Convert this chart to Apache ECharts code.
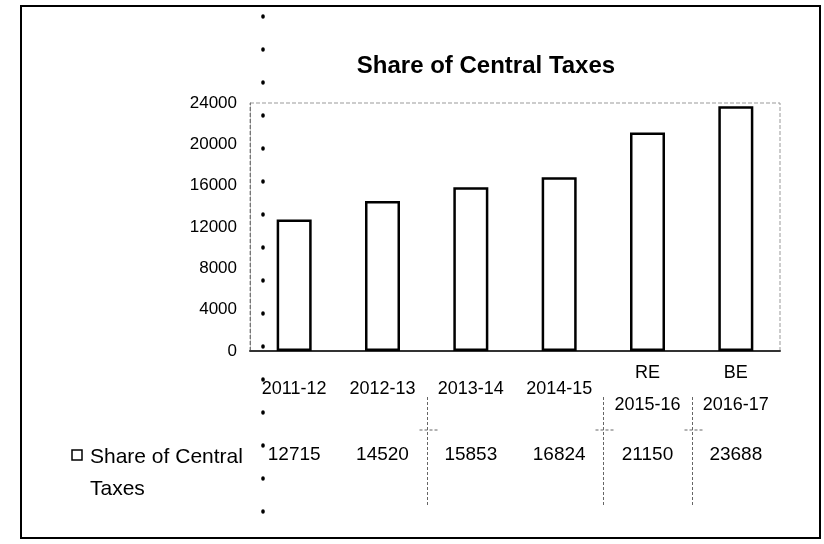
<!DOCTYPE html>
<html>
<head>
    <meta charset="utf-8">
    <title>Share of Central Taxes</title>
    <script src="https://cdn.jsdelivr.net/npm/echarts@6/dist/echarts.min.js"></script>
</head>
<body style="margin:0;background:#fff;">
<div id="main" style="width:824px;height:544px;"></div>
<script type="text/javascript">
    var seriesName = 'Share of Central Taxes';
    var years = ['2011-12', '2012-13', '2013-14', '2014-15', 'RE\n2015-16', 'BE\n2016-17'];
    var values = [12715, 14520, 15853, 16824, 21150, 23688];
    var yTicks = [0, 4000, 8000, 12000, 16000, 20000, 24000];
    // table cell borders that survive in the scan
    var tableLines = [2, 4, 5];

    var font = '"Liberation Sans", Arial, sans-serif';
    var myChart = echarts.init(document.getElementById('main'));

    myChart.setOption({
        animation: false,
        backgroundColor: '#fff',
        title: {
            text: seriesName,
            left: 481,
            textAlign: 'center',
            top: 49,
            textStyle: {fontFamily: font, fontSize: 24, fontWeight: 'bold', color: '#000'}
        },
        grid: {
            left: 250, right: 44, top: 103, bottom: 193,
            show: true, borderColor: '#999', borderWidth: 1, borderType: 'dashed'
        },
        xAxis: [{
            type: 'category',
            data: years,
            axisLine: {lineStyle: {color: '#333', width: 2}},
            axisTick: {show: false},
            axisLabel: {
                interval: 0, margin: 38, verticalAlign: 'middle', lineHeight: 32,
                fontFamily: font, fontSize: 18, color: '#000'
            }
        }, {
            type: 'category',
            position: 'bottom',
            data: values.map(String),
            axisLine: {show: false},
            axisTick: {show: false},
            axisLabel: {
                interval: 0, margin: 104, verticalAlign: 'middle',
                fontFamily: font, fontSize: 19, color: '#000'
            }
        }],
        yAxis: {
            type: 'value',
            min: yTicks[0],
            max: yTicks[yTicks.length - 1],
            interval: yTicks[1] - yTicks[0],
            axisLine: {show: true, lineStyle: {color: '#777', width: 1, type: 'dashed'}},
            axisTick: {show: false},
            splitLine: {show: false},
            axisLabel: {
                margin: 13, fontFamily: font, fontSize: 17, color: '#000',
                formatter: function (v) { return String(v); }
            }
        },
        series: [{
            name: seriesName,
            type: 'bar',
            data: values,
            barWidth: 35,
            itemStyle: {color: '#fff', borderColor: '#000', borderWidth: 2.5}
        }]
    });

    // decorations: outer frame, legend key, table rules, scanner dots
    var band = myChart.convertToPixel({xAxisIndex: 0}, years[1]) - myChart.convertToPixel({xAxisIndex: 0}, years[0]);
    var graphics = [
        {type: 'rect', shape: {x: 21, y: 6, width: 799, height: 532},
            style: {fill: null, stroke: '#000', lineWidth: 2}},
        {type: 'line', shape: {x1: 263, y1: 16, x2: 263, y2: 540},
            style: {stroke: '#000', lineWidth: 3.5, lineDash: [1, 32], lineCap: 'round'}},
        {type: 'rect', shape: {x: 72, y: 450, width: 10, height: 10},
            style: {fill: '#fff', stroke: '#000', lineWidth: 1.5}},
        {type: 'text', x: 90, y: 441,
            style: {text: 'Share of Central\nTaxes', font: '21px ' + font, fill: '#000', lineHeight: 32}}
    ];
    tableLines.forEach(function (i) {
        var x = Math.round(myChart.convertToPixel({xAxisIndex: 0}, years[i]) - band / 2) + 0.5;
        graphics.push({type: 'line', shape: {x1: x, y1: 397, x2: x, y2: 507},
            style: {stroke: '#666', lineWidth: 1, lineDash: [3, 2]}});
        graphics.push({type: 'line', shape: {x1: x - 8, y1: 430, x2: x + 12, y2: 430},
            style: {stroke: '#666', lineWidth: 1, lineDash: [3, 2]}});
    });
    myChart.setOption({graphic: graphics});
</script>
</body>
</html>
